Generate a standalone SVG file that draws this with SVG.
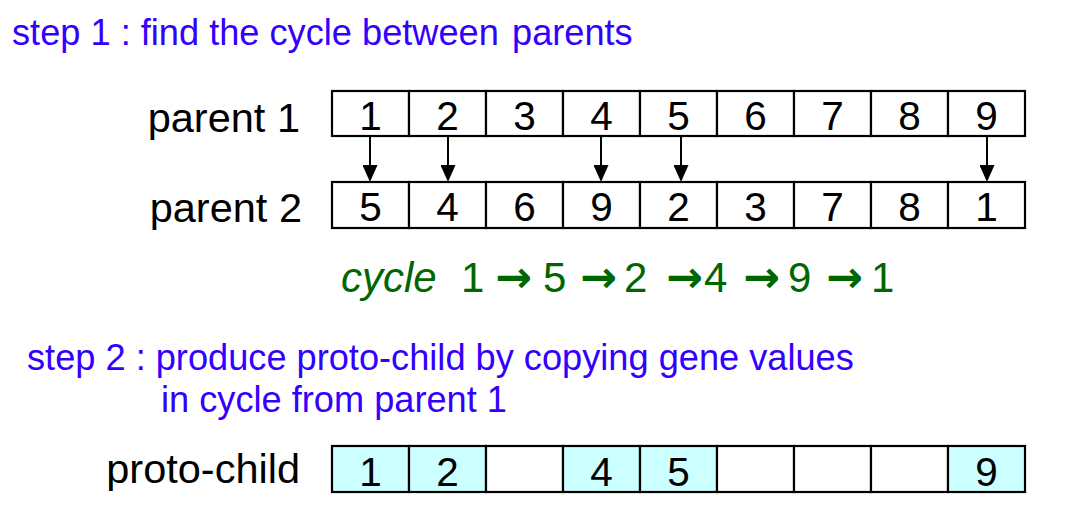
<svg xmlns="http://www.w3.org/2000/svg" width="1075" height="518" viewBox="0 0 1075 518">
<style>
.title{font-family:"Liberation Sans",Arial,sans-serif;font-size:36.2px;fill:#3300ff}
.lbl{font-family:"Liberation Sans",Arial,sans-serif;font-size:41.5px;fill:#000;text-anchor:end}
.dig{font-family:"Liberation Sans",Arial,sans-serif;font-size:40.5px;fill:#000;text-anchor:middle}
.cell{fill:#fff;stroke:#000;stroke-width:2.2}
.hl{fill:#ccffff;stroke:#000;stroke-width:2.2}
.cyc{font-family:"Liberation Sans",Arial,sans-serif;font-size:42px;fill:#006600}
.ca{font-family:"DejaVu Sans",sans-serif;font-size:44px;font-weight:bold}
.arr{stroke:#000;stroke-width:2;fill:none}
</style>
<defs>
<marker id="ah" markerWidth="15" markerHeight="17" refX="7.5" refY="0" orient="0" markerUnits="userSpaceOnUse">
<path d="M0,0 L15,0 L7.5,17 Z" fill="#000"/>
</marker>
</defs>
<rect width="1075" height="518" fill="#fff"/>
<text id="step1" class="title" x="12" y="45">step 1 : find the cycle between<tspan x="512">parents</tspan></text>

<g id="parent1">
<text class="lbl" x="300" y="132">parent 1</text>
<rect class="cell" x="332" y="91" width="77" height="45"/>
<rect class="cell" x="409" y="91" width="77" height="45"/>
<rect class="cell" x="486" y="91" width="77" height="45"/>
<rect class="cell" x="563" y="91" width="77" height="45"/>
<rect class="cell" x="640" y="91" width="77" height="45"/>
<rect class="cell" x="717" y="91" width="77" height="45"/>
<rect class="cell" x="794" y="91" width="77" height="45"/>
<rect class="cell" x="871" y="91" width="77" height="45"/>
<rect class="cell" x="948" y="91" width="77" height="45"/>
<text class="dig" y="130"><tspan x="370.5">1</tspan><tspan x="447.5">2</tspan><tspan x="524.5">3</tspan><tspan x="601.5">4</tspan><tspan x="678.5">5</tspan><tspan x="755.5">6</tspan><tspan x="832.5">7</tspan><tspan x="909.5">8</tspan><tspan x="986.5">9</tspan></text>
</g>

<g id="parent2">
<text class="lbl" x="302" y="222">parent 2</text>
<rect class="cell" x="332" y="182" width="77" height="46"/>
<rect class="cell" x="409" y="182" width="77" height="46"/>
<rect class="cell" x="486" y="182" width="77" height="46"/>
<rect class="cell" x="563" y="182" width="77" height="46"/>
<rect class="cell" x="640" y="182" width="77" height="46"/>
<rect class="cell" x="717" y="182" width="77" height="46"/>
<rect class="cell" x="794" y="182" width="77" height="46"/>
<rect class="cell" x="871" y="182" width="77" height="46"/>
<rect class="cell" x="948" y="182" width="77" height="46"/>
<text class="dig" y="221"><tspan x="370.5">5</tspan><tspan x="447.5">4</tspan><tspan x="524.5">6</tspan><tspan x="601.5">9</tspan><tspan x="678.5">2</tspan><tspan x="755.5">3</tspan><tspan x="832.5">7</tspan><tspan x="909.5">8</tspan><tspan x="986.5">1</tspan></text>
</g>

<g id="connectors">
<line class="arr" x1="370" y1="136" x2="370" y2="165" marker-end="url(#ah)"/>
<line class="arr" x1="448" y1="136" x2="448" y2="165" marker-end="url(#ah)"/>
<line class="arr" x1="601" y1="136" x2="601" y2="165" marker-end="url(#ah)"/>
<line class="arr" x1="681" y1="136" x2="681" y2="165" marker-end="url(#ah)"/>
<line class="arr" x1="987" y1="136" x2="987" y2="165" marker-end="url(#ah)"/>
</g>

<g id="cycle">
<text class="cyc" y="292"><tspan x="341" font-style="italic">cycle</tspan><tspan x="461">1</tspan><tspan class="ca" x="495">→</tspan><tspan x="543">5</tspan><tspan class="ca" x="580">→</tspan><tspan x="624">2</tspan><tspan class="ca" x="666">→</tspan><tspan x="704">4</tspan><tspan class="ca" x="743">→</tspan><tspan x="788">9</tspan><tspan class="ca" x="826">→</tspan><tspan x="871">1</tspan></text>
</g>

<text id="step2" class="title" x="27" y="370">step 2 : produce proto-child by copying gene values</text>
<text id="step2b" class="title" x="161" y="412">in cycle from parent 1</text>

<g id="protochild">
<text class="lbl" x="300" y="483">proto-child</text>
<rect class="hl" x="332" y="446" width="77" height="46"/>
<rect class="hl" x="409" y="446" width="77" height="46"/>
<rect class="cell" x="486" y="446" width="77" height="46"/>
<rect class="hl" x="563" y="446" width="77" height="46"/>
<rect class="hl" x="640" y="446" width="77" height="46"/>
<rect class="cell" x="717" y="446" width="77" height="46"/>
<rect class="cell" x="794" y="446" width="77" height="46"/>
<rect class="cell" x="871" y="446" width="77" height="46"/>
<rect class="hl" x="948" y="446" width="77" height="46"/>
<text class="dig" y="486"><tspan x="370.5">1</tspan><tspan x="447.5">2</tspan><tspan x="601.5">4</tspan><tspan x="678.5">5</tspan><tspan x="986.5">9</tspan></text>
</g>
</svg>
